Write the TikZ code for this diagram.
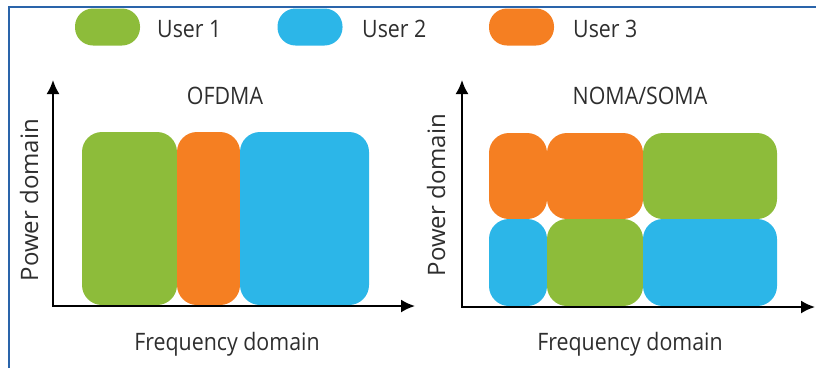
\documentclass[tikz,border=0pt]{standalone}
\usepackage{fontspec}
\setmainfont{Open Sans}[FakeStretch=0.89]
\newfontfamily\axisfont{Open Sans}
\usetikzlibrary{arrows.meta}
\definecolor{usrgreen}{HTML}{8DBC3A}
\definecolor{usrblue}{HTML}{2CB6E8}
\definecolor{usrorange}{HTML}{F57F22}
\definecolor{framebl}{HTML}{2A64AA}
\definecolor{txtgray}{HTML}{2E2E2E}
\newcommand{\UsrA}[0]{usrgreen}
\newcommand{\UsrB}[0]{usrblue}
\newcommand{\UsrC}[0]{usrorange}

\begin{document}
\begin{tikzpicture}[x=1pt, y=-1pt,
  lbl/.style={text=txtgray, font=\fontsize{24}{28}\selectfont, inner sep=0pt},
  vlbl/.style={lbl, font=\axisfont\fontsize{24}{28}\selectfont, rotate=90, anchor=base},
  pill/.style={minimum width=65pt, minimum height=37pt, rounded corners=18pt, inner sep=0pt},
  axis/.style={line width=2pt, -{Latex[length=14pt, width=13pt]}}]

  \useasboundingbox (0,0) rectangle (816,368);

  \newcommand\R{20pt}

  %% frame (only left and top edge are shown)
  \draw[framebl, line width=2pt] (9,368) -- (9,7) -- (816,7);

  %% legend
  \node[pill, fill=\UsrA] (p1) at (107.5,27) {};
  \node[lbl, anchor=base west] (u1) at (157,37.5) {User 1};
  \node[pill, fill=\UsrB] (p2) at (310,27) {};
  \node[lbl, anchor=base west] (u2) at (362,37.5) {User 2};
  \node[pill, fill=\UsrC] (p3) at (521.5,27) {};
  \node[lbl, anchor=base west] (u3) at (573,37.5) {User 3};

  %% OFDMA
  \fill[\UsrA, rounded corners=\R] (82,132) rectangle (177,305);
  \fill[\UsrC, rounded corners=\R] (177,132) rectangle (240,305);
  \fill[\UsrB, rounded corners=\R] (240,132) rectangle (369,305);

  %% NOMA/SOMA
  \fill[\UsrC, rounded corners=\R] (489,133) rectangle (547,219);
  \fill[\UsrC, rounded corners=\R] (547,133) rectangle (643,219);
  \fill[\UsrA, rounded corners=\R] (643,133) rectangle (777,219);
  \fill[\UsrB, rounded corners=\R] (489,219) rectangle (547,306);
  \fill[\UsrA, rounded corners=\R] (547,219) rectangle (643,306);
  \fill[\UsrB, rounded corners=\R] (643,219) rectangle (777,306);

  %% axes
  \coordinate (o1) at (53,306);
  \coordinate (y1) at (53,80);
  \coordinate (x1) at (415,306);
  \coordinate (o2) at (462,307);
  \coordinate (y2) at (462,80);
  \coordinate (x2) at (815,307);
  \draw[axis] (o1) -- (y1);
  \draw[axis] ([xshift=-1pt]o1) -- (x1);
  \draw[axis] (o2) -- (y2);
  \draw[axis] ([xshift=-1pt]o2) -- (x2);

  %% labels
  \node[lbl, anchor=base] (t1) at (225,104) {OFDMA};
  \node[lbl, anchor=base] (t2) at (640,104) {NOMA/SOMA};
  \node[lbl, anchor=base] (f1) at (227,350) {Frequency domain};
  \node[lbl, anchor=base] (f2) at (630,350) {Frequency domain};
  \node[vlbl] (v1) at (38,200) {Power domain};
  \node[vlbl] (v2) at (445,195) {Power domain};

\end{tikzpicture}
\end{document}
